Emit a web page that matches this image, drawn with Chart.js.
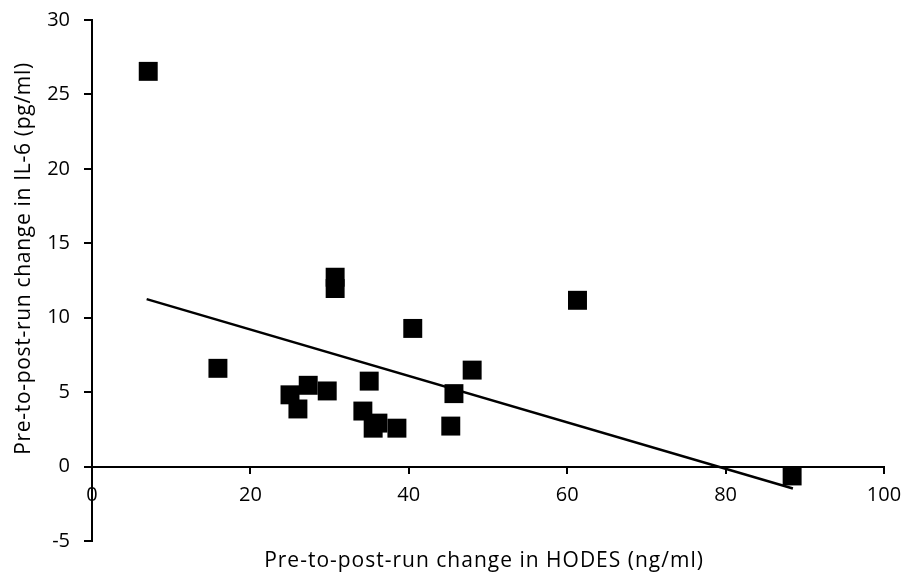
<!DOCTYPE html>
<html>
<head>
<meta charset="utf-8">
<script src="https://cdn.jsdelivr.net/npm/chart.js@4.4.0/dist/chart.umd.min.js"></script>
<style>
  html, body { margin: 0; padding: 0; background: #fff; }
  #wrap { width: 908px; height: 582px; }
</style>
</head>
<body>
<div id="wrap"><canvas id="scatterChart" width="908" height="582"></canvas></div>
<script>
// change pre-to-post run, one entry per runner
const hodesChange = [7.1, 15.9, 25.0, 26.0, 27.3, 29.7, 30.7, 30.7, 34.2, 35.0, 35.5, 36.1, 38.5, 40.5, 45.3, 45.7, 48.0, 61.3, 88.4];
const il6Change = [26.55, 6.60, 4.82, 3.87, 5.46, 5.08, 12.72, 11.96, 3.73, 5.74, 2.58, 2.92, 2.58, 9.28, 2.72, 4.90, 6.48, 11.17, -0.63];

// linear fit end points
const trendX = [6.9, 88.5];
const trendY = [11.25, -1.47];

const xTicks = [0, 20, 40, 60, 80, 100];
const yTicks = [-5, 0, 5, 10, 15, 20, 25, 30];

const xTitle = 'Pre-to-post-run change in HODES (ng/ml)';
const yTitle = 'Pre-to-post-run change in IL-6 (pg/ml)';

const FONT = 'Open Sans';
const FONT_SIZE = 20;

// axis titles sit away from the axes (x axis crosses at y = 0)
const axisTitles = {
    id: 'axisTitles',
    afterDraw(chart) {
        const ctx = chart.ctx;
        const area = chart.chartArea;
        ctx.save();
        ctx.fillStyle = '#000';
        ctx.font = '21px "' + FONT + '"';
        ctx.textAlign = 'center';
        ctx.textBaseline = 'alphabetic';
        ctx.letterSpacing = '1px';
        ctx.fillText(xTitle, (area.left + area.right) / 2 - 4, area.bottom + 26);
        ctx.letterSpacing = '0.7px';
        ctx.translate(30, (area.top + area.bottom) / 2 - 22);
        ctx.rotate(-Math.PI / 2);
        ctx.fillText(yTitle, 0, 0);
        ctx.restore();
    }
};

function noEdgePadding(s) {
    s.paddingTop = 0;
    s.paddingBottom = 0;
    s.paddingLeft = 0;
    s.paddingRight = 0;
}

function draw() {
    const points = hodesChange.map((x, i) => ({ x: x, y: il6Change[i] }));
    const trend = trendX.map((x, i) => ({ x: x, y: trendY[i] }));

    const ctx = document.getElementById('scatterChart').getContext('2d');
    new Chart(ctx, {
        type: 'scatter',
        data: {
            datasets: [{
                data: points,
                pointStyle: 'rect',
                pointRadius: 13.4,
                pointHoverRadius: 13.4,
                backgroundColor: '#000',
                borderWidth: 0,
                order: 0
            }, {
                data: trend,
                showLine: true,
                pointRadius: 0,
                borderColor: '#000',
                borderWidth: 2.5,
                order: 1
            }]
        },
        options: {
            responsive: false,
            animation: false,
            layout: { padding: { top: 20, right: 24, bottom: 41, left: 0 } },
            plugins: {
                legend: { display: false },
                tooltip: { enabled: false }
            },
            scales: {
                x: {
                    type: 'linear',
                    min: 0,
                    max: 100,
                    position: { y: 0 },
                    afterBuildTicks: s => { s.ticks = xTicks.map(v => ({ value: v })); },
                    afterFit: noEdgePadding,
                    grid: { drawOnChartArea: false, drawTicks: true, tickLength: 6, color: '#000', lineWidth: 2 },
                    border: { display: true, color: '#000', width: 2 },
                    ticks: { color: '#000', font: { family: FONT, size: FONT_SIZE }, padding: 11, maxRotation: 0 }
                },
                y: {
                    type: 'linear',
                    min: -5,
                    max: 30,
                    afterBuildTicks: s => { s.ticks = yTicks.map(v => ({ value: v })); },
                    afterFit: s => { noEdgePadding(s); s.width = 92; },
                    grid: { drawOnChartArea: false, drawTicks: true, tickLength: 8, color: '#000', lineWidth: 2 },
                    border: { display: true, color: '#000', width: 2 },
                    ticks: { color: '#000', font: { family: FONT, size: FONT_SIZE }, padding: 14 }
                }
            }
        },
        plugins: [axisTitles]
    });
}

document.fonts.load(FONT_SIZE + 'px "' + FONT + '"').then(draw, draw);
</script>
</body>
</html>
